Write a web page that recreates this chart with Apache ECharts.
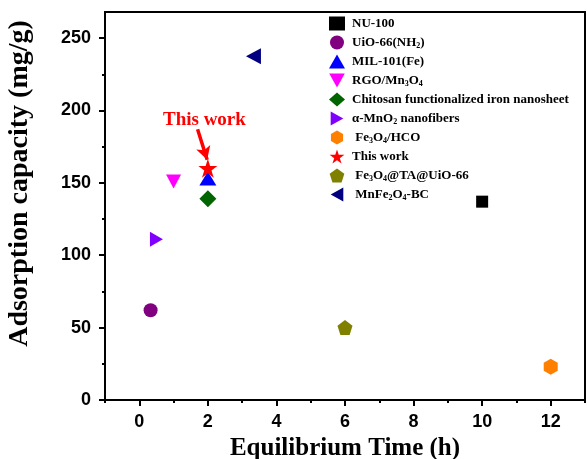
<!DOCTYPE html>
<html><head><meta charset="utf-8">
<script src="https://cdn.jsdelivr.net/npm/echarts@6/dist/echarts.min.js"></script>
<style>html,body{margin:0;padding:0;background:#fff}#c{width:587px;height:459px}</style>
</head><body><div id="c"></div>
<script>
// ---- data ----
const seriesNames = ['NU-100','UiO-66(NH2)','MIL-101(Fe)','RGO/Mn3O4','Chitosan functionalized iron nanosheet','α-MnO2 nanofibers','Fe3O4/HCO','This work','Fe3O4@TA@UiO-66','MnFe2O4-BC'];
const legendLabels = ['NU-100','UiO-66(NH{s|2})','MIL-101(Fe)','RGO/Mn{s|3}O{s|4}','Chitosan functionalized iron nanosheet','α-MnO{s|2} nanofibers',' Fe{s|3}O{s|4}/HCO','This work',' Fe{s|3}O{s|4}@TA@UiO-66',' MnFe{s|2}O{s|4}-BC'];
const timeValues = [10, 0.33, 2, 1, 2, 0.5, 12, 2, 6, 3.33];
const capacityValues = [137, 62, 153, 151, 139, 111, 23, 160, 50, 237.5];
const xTicks = [0,2,4,6,8,10,12];
const xMinorTicks = [-1,1,3,5,7,9,11,13];
const yTicks = [0,50,100,150,200,250];
const yMinorTicks = [25,75,125,175,225];
const annotationText = 'This work';
const arrowFrom = [1.7, 187];
const arrowTo = [1.98, 166];
const annotationPos = [1.9, 193];

// ---- styles ----
const colors = ['#000000','#800080','#0000ff','#ff00ff','#006400','#7f00ff','#ff8000','#ff0000','#808000','#000080'];
const symbols = ['rect','circle','triangle',
  'path://M0,0 L10,0 L5,9 Z','diamond','path://M0,0 L9,5 L0,10 Z',
  'path://M8.66,0 L17.32,5 L17.32,15 L8.66,20 L0,15 L0,5 Z',
  'path://M10,0 L12.25,6.91 L19.51,6.91 L13.63,11.18 L15.88,18.09 L10,13.82 L4.12,18.09 L6.37,11.18 L0.49,6.91 L7.75,6.91 Z',
  'path://M10,0 L19.51,6.91 L15.88,18.09 L4.12,18.09 L0.49,6.91 Z',
  'path://M9,0 L0,5 L9,10 Z'];
const sizes = [12,14,[17,14],[15,14],[17,17],[13,15],[14,16],19,15,[15,16]];

const chart = echarts.init(document.getElementById('c'));
const series = seriesNames.map((n,i)=>{
  const s = {
    name: n, type: 'scatter', symbol: symbols[i], symbolSize: sizes[i],
    xAxisIndex: 0, yAxisIndex: 0,
    itemStyle: {color: colors[i], opacity: 1},
    data: [[timeValues[i], capacityValues[i]]], z: 5
  };
  if (n === 'This work') {
    s.z = 6;
    s.markLine = {
      silent: true, symbol: ['none','arrow'], symbolSize: [11,13],
      lineStyle: {color: '#ff0000', width: 3.5, type: 'solid'},
      label: {show: false},
      data: [[{coord: arrowFrom}, {coord: arrowTo}]]
    };
    s.markPoint = {
      silent: true, symbol: 'circle', symbolSize: 1,
      itemStyle: {color: 'rgba(0,0,0,0)'},
      label: {show: true, position: 'inside', formatter: annotationText, color: '#ff0000',
        fontFamily: 'Liberation Serif', fontWeight: 'bold', fontSize: 19},
      data: [{coord: annotationPos}]
    };
  }
  return s;
});

const axisTitle = {fontFamily: 'Liberation Serif', fontWeight: 'bold', color: '#000'};
const tickLabel = {fontFamily: 'Liberation Sans', fontWeight: 'bold', fontSize: 18, color: '#000'};

chart.setOption({
  animation: false,
  backgroundColor: '#fff',
  grid: {left: 105, right: 2, top: 12, bottom: 59, show: true, borderColor: '#000', borderWidth: 2,
    backgroundColor: 'transparent', containLabel: false, outerBoundsMode: 'none'},
  legend: {
    orient: 'vertical', left: 324, top: 11, itemGap: 4, itemWidth: 16, itemHeight: 14,
    data: seriesNames,
    formatter: function(name){ return legendLabels[seriesNames.indexOf(name)]; },
    textStyle: {fontFamily: 'Liberation Serif', fontWeight: 'bold', fontSize: 13, color: '#000', lineHeight: 15,
      padding: [0,0,0,2],
      rich: {s: {fontFamily: 'Liberation Serif', fontWeight: 'bold', fontSize: 8, verticalAlign: 'bottom', padding: [8,0,0,0], color:'#000'}}},
    itemStyle: {borderWidth: 0}
  },
  xAxis: [{
    type: 'value', min: -1, max: 13, interval: 1, position: 'bottom',
    name: 'Equilibrium Time (h)', nameLocation: 'middle', nameGap: 34,
    nameTextStyle: Object.assign({fontSize: 25}, axisTitle),
    axisLine: {show: true, onZero: false, lineStyle: {color: '#000', width: 2}},
    axisTick: {show: true, inside: false, length: 6, customValues: xTicks, lineStyle: {color: '#000', width: 2}},
    splitLine: {show: false},
    axisLabel: Object.assign({margin: 13, customValues: xTicks}, tickLabel)
  }, {
    type: 'value', min: -1, max: 13, interval: 1, position: 'bottom', offset: 0,
    axisLine: {show: false, onZero: false},
    axisTick: {show: true, inside: false, length: 3, customValues: xMinorTicks, lineStyle: {color: '#000', width: 2}},
    splitLine: {show: false},
    axisLabel: {show: false}
  }],
  yAxis: [{
    type: 'value', min: 0, max: 268, interval: 25, position: 'left',
    name: 'Adsorption capacity (mg/g)', nameLocation: 'middle', nameGap: 71,
    nameTextStyle: Object.assign({fontSize: 28, padding: [0,0,0,45]}, axisTitle),
    axisLine: {show: true, onZero: false, lineStyle: {color: '#000', width: 2}},
    axisTick: {show: true, inside: false, length: 6, customValues: yTicks, lineStyle: {color: '#000', width: 2}},
    splitLine: {show: false},
    axisLabel: Object.assign({margin: 14, customValues: yTicks}, tickLabel)
  }, {
    type: 'value', min: 0, max: 268, interval: 25, position: 'left', offset: 0,
    axisLine: {show: false, onZero: false},
    axisTick: {show: true, inside: false, length: 3, customValues: yMinorTicks, lineStyle: {color: '#000', width: 2}},
    splitLine: {show: false},
    axisLabel: {show: false}
  }],
  series: series
});
</script></body></html>
